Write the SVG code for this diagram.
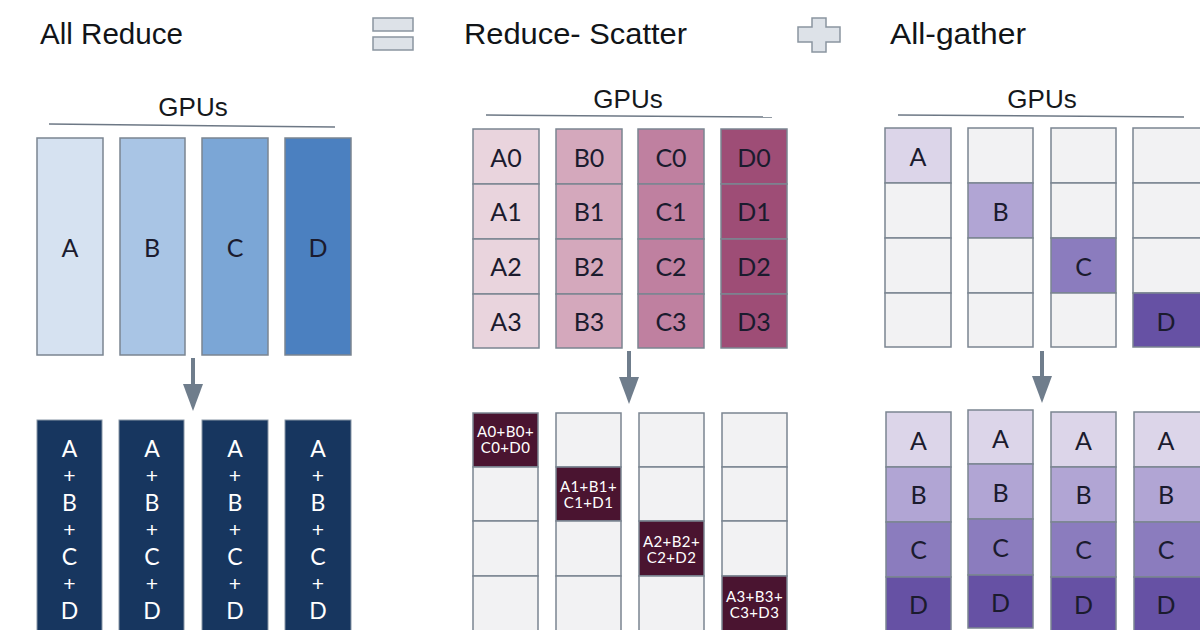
<svg xmlns="http://www.w3.org/2000/svg" width="1200" height="630" viewBox="0 0 1200 630">
<defs>
<style>
.title{font-family:"Liberation Sans",Arial,sans-serif;font-size:29px;fill:#111418}
.gpus{font-family:"Liberation Sans",Arial,sans-serif;font-size:26px;fill:#15181c;text-anchor:middle}
.rule{stroke:#6d7885;stroke-width:1.5}
.icon{fill:#dde2e8;stroke:#8a95a0;stroke-width:1.5}
.cell{stroke:#7b8591;stroke-width:1.5}
.lbl{font-family:Lato,"Liberation Sans",sans-serif;font-size:25px;fill:#1b1b2e;text-anchor:middle;dominant-baseline:central}
.wl{font-family:Lato,"Liberation Sans",sans-serif;font-size:23px;fill:#ffffff;text-anchor:middle;dominant-baseline:central}
.wp{font-family:"Liberation Sans",Arial,sans-serif;font-size:21px;fill:#ffffff;text-anchor:middle;dominant-baseline:central}
.sm{font-family:Lato,"Liberation Sans",sans-serif;font-size:15px;letter-spacing:0.4px;fill:#ffffff;text-anchor:middle}
.empty{fill:#f2f2f3}
.navy{fill:#17365f;stroke:#8896a6;stroke-width:1}
.maroon{fill:#4a1430;stroke:#7b8591;stroke-width:1.5}
.conn{stroke:#6f7d8c;stroke-width:4;fill:none;marker-end:url(#ah)}
</style>
<marker id="ah" viewBox="0 0 27 20" refX="0" refY="10" markerWidth="27" markerHeight="20" markerUnits="userSpaceOnUse" orient="auto">
<path d="M0,0 L27,10 L0,20 Z" fill="#6f7d8c"/>
</marker>
</defs>
<rect width="1200" height="630" fill="#ffffff"/>

<g id="header">
<text class="title" x="40" y="44" textLength="143" lengthAdjust="spacingAndGlyphs">All Reduce</text>
<g id="equals-icon">
<rect class="icon" x="373" y="18" width="40" height="13"/>
<rect class="icon" x="373" y="37" width="40" height="13"/>
</g>
<text class="title" x="464" y="44" textLength="223" lengthAdjust="spacingAndGlyphs">Reduce- Scatter</text>
<g id="plus-icon">
<path class="icon" d="M812,18 H826 V27 H840 V42 H826 V52 H812 V42 H798 V27 H812 Z"/>
</g>
<text class="title" x="890" y="44" textLength="136" lengthAdjust="spacingAndGlyphs">All-gather</text>
</g>

<!-- All Reduce section -->
<g id="allreduce-gpus">
<text class="gpus" x="193" y="116">GPUs</text>
<line class="rule" x1="49" y1="124" x2="335" y2="127"/>
</g>
<g id="ar-in-A"><rect class="cell" x="37" y="138" width="66" height="217" fill="#d6e2f1"/><text class="lbl" x="70" y="247">A</text></g>
<g id="ar-in-B"><rect class="cell" x="120" y="138" width="65" height="217" fill="#a9c5e5"/><text class="lbl" x="152" y="247">B</text></g>
<g id="ar-in-C"><rect class="cell" x="202" y="138" width="66" height="217" fill="#7ba6d6"/><text class="lbl" x="235" y="247">C</text></g>
<g id="ar-in-D"><rect class="cell" x="285" y="138" width="66" height="217" fill="#4b80c0"/><text class="lbl" x="318" y="247">D</text></g>

<g id="ar-out-1"><rect class="navy" x="37" y="420" width="65" height="220"/>
<text class="wl" x="69.5" y="448">A</text><text class="wp" x="69.5" y="475">+</text><text class="wl" x="69.5" y="502">B</text><text class="wp" x="69.5" y="529">+</text><text class="wl" x="69.5" y="556">C</text><text class="wp" x="69.5" y="583">+</text><text class="wl" x="69.5" y="610">D</text></g>
<g id="ar-out-2"><rect class="navy" x="119" y="420" width="65" height="220"/>
<text class="wl" x="152" y="448">A</text><text class="wp" x="152" y="475">+</text><text class="wl" x="152" y="502">B</text><text class="wp" x="152" y="529">+</text><text class="wl" x="152" y="556">C</text><text class="wp" x="152" y="583">+</text><text class="wl" x="152" y="610">D</text></g>
<g id="ar-out-3"><rect class="navy" x="202" y="420" width="66" height="220"/>
<text class="wl" x="235" y="448">A</text><text class="wp" x="235" y="475">+</text><text class="wl" x="235" y="502">B</text><text class="wp" x="235" y="529">+</text><text class="wl" x="235" y="556">C</text><text class="wp" x="235" y="583">+</text><text class="wl" x="235" y="610">D</text></g>
<g id="ar-out-4"><rect class="navy" x="285" y="420" width="66" height="220"/>
<text class="wl" x="318" y="448">A</text><text class="wp" x="318" y="475">+</text><text class="wl" x="318" y="502">B</text><text class="wp" x="318" y="529">+</text><text class="wl" x="318" y="556">C</text><text class="wp" x="318" y="583">+</text><text class="wl" x="318" y="610">D</text></g>

<!-- Reduce-Scatter section -->
<g id="rs-gpus">
<text class="gpus" x="628" y="108">GPUs</text>
<line class="rule" x1="486" y1="115" x2="772" y2="117"/>
</g>
<g id="rs-in-A">
<rect class="cell" x="473" y="129" width="66" height="55" fill="#e9d4dd"/><text class="lbl" x="506" y="157">A0</text>
<rect class="cell" x="473" y="184" width="66" height="55" fill="#e9d4dd"/><text class="lbl" x="506" y="211">A1</text>
<rect class="cell" x="473" y="239" width="66" height="55" fill="#e9d4dd"/><text class="lbl" x="506" y="266">A2</text>
<rect class="cell" x="473" y="294" width="66" height="54" fill="#e9d4dd"/><text class="lbl" x="506" y="321">A3</text>
</g>
<g id="rs-in-B">
<rect class="cell" x="556" y="129" width="66" height="55" fill="#d4a8bc"/><text class="lbl" x="589" y="157">B0</text>
<rect class="cell" x="556" y="184" width="66" height="55" fill="#d4a8bc"/><text class="lbl" x="589" y="211">B1</text>
<rect class="cell" x="556" y="239" width="66" height="55" fill="#d4a8bc"/><text class="lbl" x="589" y="266">B2</text>
<rect class="cell" x="556" y="294" width="66" height="54" fill="#d4a8bc"/><text class="lbl" x="589" y="321">B3</text>
</g>
<g id="rs-in-C">
<rect class="cell" x="638" y="129" width="66" height="55" fill="#bf80a0"/><text class="lbl" x="671" y="157">C0</text>
<rect class="cell" x="638" y="184" width="66" height="55" fill="#bf80a0"/><text class="lbl" x="671" y="211">C1</text>
<rect class="cell" x="638" y="239" width="66" height="55" fill="#bf80a0"/><text class="lbl" x="671" y="266">C2</text>
<rect class="cell" x="638" y="294" width="66" height="54" fill="#bf80a0"/><text class="lbl" x="671" y="321">C3</text>
</g>
<g id="rs-in-D">
<rect class="cell" x="721" y="129" width="66" height="55" fill="#9e4d76"/><text class="lbl" x="754" y="157">D0</text>
<rect class="cell" x="721" y="184" width="66" height="55" fill="#9e4d76"/><text class="lbl" x="754" y="211">D1</text>
<rect class="cell" x="721" y="239" width="66" height="55" fill="#9e4d76"/><text class="lbl" x="754" y="266">D2</text>
<rect class="cell" x="721" y="294" width="66" height="54" fill="#9e4d76"/><text class="lbl" x="754" y="321">D3</text>
</g>

<g id="rs-out-1">
<rect class="maroon" x="473" y="413" width="65" height="54"/>
<text class="sm" x="505.5" y="437">A0+B0+</text><text class="sm" x="505.5" y="453">C0+D0</text>
<rect class="cell empty" x="473" y="467" width="65" height="54"/>
<rect class="cell empty" x="473" y="521" width="65" height="55"/>
<rect class="cell empty" x="473" y="576" width="65" height="60"/>
</g>
<g id="rs-out-2">
<rect class="cell empty" x="556" y="413" width="65" height="54"/>
<rect class="maroon" x="556" y="467" width="65" height="54"/>
<text class="sm" x="588.5" y="492">A1+B1+</text><text class="sm" x="588.5" y="508">C1+D1</text>
<rect class="cell empty" x="556" y="521" width="65" height="55"/>
<rect class="cell empty" x="556" y="576" width="65" height="60"/>
</g>
<g id="rs-out-3">
<rect class="cell empty" x="639" y="413" width="65" height="54"/>
<rect class="cell empty" x="639" y="467" width="65" height="54"/>
<rect class="maroon" x="639" y="521" width="65" height="55"/>
<text class="sm" x="671.5" y="547">A2+B2+</text><text class="sm" x="671.5" y="563">C2+D2</text>
<rect class="cell empty" x="639" y="576" width="65" height="60"/>
</g>
<g id="rs-out-4">
<rect class="cell empty" x="722" y="413" width="65" height="54"/>
<rect class="cell empty" x="722" y="467" width="65" height="54"/>
<rect class="cell empty" x="722" y="521" width="65" height="55"/>
<rect class="maroon" x="722" y="576" width="65" height="60"/>
<text class="sm" x="754.5" y="602">A3+B3+</text><text class="sm" x="754.5" y="618">C3+D3</text>
</g>

<!-- All-gather section -->
<g id="ag-gpus">
<text class="gpus" x="1042" y="108">GPUs</text>
<line class="rule" x1="898" y1="115" x2="1184" y2="117"/>
</g>
<g id="ag-in-1">
<rect class="cell" x="885" y="128" width="66" height="55" fill="#dcd5e9"/><text class="lbl" x="918" y="156">A</text>
<rect class="cell empty" x="885" y="183" width="66" height="55"/>
<rect class="cell empty" x="885" y="238" width="66" height="55"/>
<rect class="cell empty" x="885" y="293" width="66" height="54"/>
</g>
<g id="ag-in-2">
<rect class="cell empty" x="968" y="128" width="65" height="55"/>
<rect class="cell" x="968" y="183" width="65" height="55" fill="#b1a5d4"/><text class="lbl" x="1000.5" y="211">B</text>
<rect class="cell empty" x="968" y="238" width="65" height="55"/>
<rect class="cell empty" x="968" y="293" width="65" height="54"/>
</g>
<g id="ag-in-3">
<rect class="cell empty" x="1051" y="128" width="65" height="55"/>
<rect class="cell empty" x="1051" y="183" width="65" height="55"/>
<rect class="cell" x="1051" y="238" width="65" height="55" fill="#8b7cbe"/><text class="lbl" x="1083.5" y="266">C</text>
<rect class="cell empty" x="1051" y="293" width="65" height="54"/>
</g>
<g id="ag-in-4">
<rect class="cell empty" x="1133" y="128" width="70" height="55"/>
<rect class="cell empty" x="1133" y="183" width="70" height="55"/>
<rect class="cell empty" x="1133" y="238" width="70" height="55"/>
<rect class="cell" x="1133" y="293" width="70" height="54" fill="#6651a4"/><text class="lbl" x="1166" y="321">D</text>
</g>

<g id="ag-out-1">
<rect class="cell" x="886" y="412" width="65" height="55" fill="#dcd5e9"/><text class="lbl" x="918.5" y="440">A</text>
<rect class="cell" x="886" y="467" width="65" height="55" fill="#b1a5d4"/><text class="lbl" x="918.5" y="494">B</text>
<rect class="cell" x="886" y="522" width="65" height="55" fill="#8b7cbe"/><text class="lbl" x="918.5" y="549">C</text>
<rect class="cell" x="886" y="577" width="65" height="60" fill="#6651a4"/><text class="lbl" x="918.5" y="604">D</text>
</g>
<g id="ag-out-2">
<rect class="cell" x="968" y="410" width="65" height="54" fill="#dcd5e9"/><text class="lbl" x="1000.5" y="438">A</text>
<rect class="cell" x="968" y="464" width="65" height="55" fill="#b1a5d4"/><text class="lbl" x="1000.5" y="492">B</text>
<rect class="cell" x="968" y="519" width="65" height="56" fill="#8b7cbe"/><text class="lbl" x="1000.5" y="547">C</text>
<rect class="cell" x="968" y="575" width="65" height="53" fill="#6651a4"/><text class="lbl" x="1000.5" y="602">D</text>
</g>
<g id="ag-out-3">
<rect class="cell" x="1051" y="412" width="65" height="55" fill="#dcd5e9"/><text class="lbl" x="1083.5" y="440">A</text>
<rect class="cell" x="1051" y="467" width="65" height="55" fill="#b1a5d4"/><text class="lbl" x="1083.5" y="494">B</text>
<rect class="cell" x="1051" y="522" width="65" height="55" fill="#8b7cbe"/><text class="lbl" x="1083.5" y="549">C</text>
<rect class="cell" x="1051" y="577" width="65" height="60" fill="#6651a4"/><text class="lbl" x="1083.5" y="604">D</text>
</g>
<g id="ag-out-4">
<rect class="cell" x="1134" y="412" width="70" height="55" fill="#dcd5e9"/><text class="lbl" x="1166" y="440">A</text>
<rect class="cell" x="1134" y="467" width="70" height="55" fill="#b1a5d4"/><text class="lbl" x="1166" y="494">B</text>
<rect class="cell" x="1134" y="522" width="70" height="55" fill="#8b7cbe"/><text class="lbl" x="1166" y="549">C</text>
<rect class="cell" x="1134" y="577" width="70" height="60" fill="#6651a4"/><text class="lbl" x="1166" y="604">D</text>
</g>

<g id="connectors">
<line class="conn" x1="193" y1="358" x2="193" y2="384"/>
<line class="conn" x1="629" y1="351" x2="629" y2="377"/>
<line class="conn" x1="1042" y1="351" x2="1042" y2="376"/>
</g>
</svg>
